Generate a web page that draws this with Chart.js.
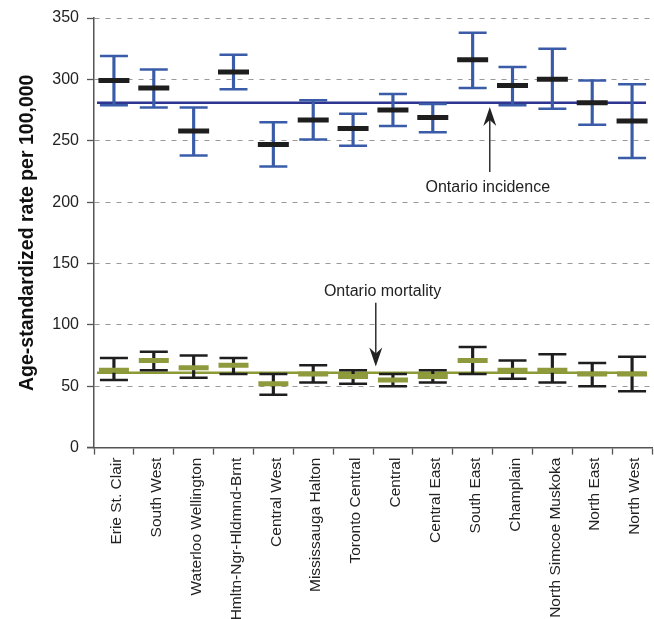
<!DOCTYPE html>
<html>
<head>
<meta charset="utf-8">
<script src="https://cdn.jsdelivr.net/npm/chart.js@4.4.1/dist/chart.umd.min.js"></script>
<style>
  html, body { margin: 0; padding: 0; background: #fff; overflow: hidden; }
  canvas { display: block; }
</style>
</head>
<body>
<canvas id="chart" width="654" height="619"></canvas>
<script>
// Regions (LHINs)
const regions = ['Erie St. Clair', 'South West', 'Waterloo Wellington', 'Hmltn-Ngr-Hldmnd-Brnt',
    'Central West', 'Mississauga Halton', 'Toronto Central', 'Central', 'Central East',
    'South East', 'Champlain', 'North Simcoe Muskoka', 'North East', 'North West'];

// Incidence: rate and 95% CI
const incRate = [299, 293, 258, 306, 247, 267, 260, 275, 269, 316, 295, 300, 281, 266];
const incLow  = [279, 277, 238, 292, 229, 251, 246, 262, 257, 293, 279, 276, 263, 236];
const incHigh = [319, 308, 277, 320, 265, 283, 272, 288, 280, 338, 310, 325, 299, 296];

// Mortality: rate and 95% CI
const morRate = [63, 71, 65, 67, 52, 60, 58, 55, 58, 71, 63, 63, 60, 60];
const morLow  = [55, 63, 57, 60, 43, 53, 52, 50, 53, 60, 56, 53, 50, 46];
const morHigh = [73, 78, 75, 73, 60, 67, 63, 60, 63, 82, 71, 76, 69, 74];

// Ontario reference levels
const ontarioIncidence = 281;
const ontarioMortality = 61;

const yTicks = [0, 50, 100, 150, 200, 250, 300, 350];

const BLUE = '#3a5ca8';
const NAVY = '#2d3590';
const OLIVE = '#8e9a3c';
const OLIVE_LINE = '#8c9a35';
const BLACK = '#1e1e1e';

// reference lines + arrow annotations
const refLines = {
    id: 'refLines',
    beforeDatasetsDraw(chart) {
        const { ctx, chartArea, scales: { y } } = chart;
        ctx.save();
        ctx.lineWidth = 2.4;
        [[ontarioIncidence, NAVY], [ontarioMortality, OLIVE_LINE]].forEach(([v, c]) => {
            const py = y.getPixelForValue(v);
            ctx.strokeStyle = c;
            ctx.beginPath();
            ctx.moveTo(chartArea.left + 3, py);
            ctx.lineTo(chartArea.right - 6, py);
            ctx.stroke();
        });
        ctx.restore();
    },
    afterDatasetsDraw(chart) {
        const { ctx, chartArea, scales: { x, y } } = chart;
        ctx.save();
        // x axis line runs a little past the y axis, like the original
        ctx.strokeStyle = '#555';
        ctx.lineWidth = 1.5;
        ctx.beginPath();
        ctx.moveTo(chartArea.left - 7, chartArea.bottom);
        ctx.lineTo(chartArea.left, chartArea.bottom);
        ctx.stroke();

        ctx.fillStyle = '#222';
        ctx.strokeStyle = '#222';
        ctx.font = '16px "Liberation Sans", Arial, sans-serif';
        ctx.textAlign = 'center';
        ctx.textBaseline = 'middle';
        ctx.fillText('Ontario incidence', x.getPixelForValue(9.38), y.getPixelForValue(211.5));
        ctx.fillText('Ontario mortality', x.getPixelForValue(6.74), y.getPixelForValue(127));

        function arrow(px, y0, y1) {
            const dir = y1 > y0 ? 1 : -1;
            ctx.lineWidth = 1.4;
            ctx.beginPath();
            ctx.moveTo(px, y0);
            ctx.lineTo(px, y1 - dir * 12);
            ctx.stroke();
            ctx.beginPath();
            ctx.moveTo(px, y1);
            ctx.lineTo(px - 6.5, y1 - dir * 19);
            ctx.lineTo(px, y1 - dir * 13);
            ctx.lineTo(px + 6.5, y1 - dir * 19);
            ctx.closePath();
            ctx.fill();
        }
        arrow(x.getPixelForValue(9.43), y.getPixelForValue(224.5), y.getPixelForValue(277.5));
        arrow(x.getPixelForValue(6.57), y.getPixelForValue(118), y.getPixelForValue(66));
        ctx.restore();
    }
};

const pointSet = (label, data, color, radius, width) => ({
    type: 'line',
    label: label,
    data: data,
    showLine: false,
    pointStyle: 'line',
    pointRadius: radius,
    pointHoverRadius: radius,
    borderColor: color,
    backgroundColor: color,
    borderWidth: width
});

const ctx = document.getElementById('chart').getContext('2d');
const chart = new Chart(ctx, {
    type: 'bar',
    data: {
        labels: regions,
        datasets: [
            pointSet('Incidence rate', incRate, BLACK, 15.5, 5),
            pointSet('Mortality rate', morRate, OLIVE, 15, 5),
            pointSet('Incidence upper', incHigh, BLUE, 14, 2.5),
            pointSet('Incidence lower', incLow, BLUE, 14, 2.5),
            pointSet('Mortality upper', morHigh, BLACK, 14, 2.5),
            pointSet('Mortality lower', morLow, BLACK, 14, 2.5),
            {
                label: 'Incidence CI',
                data: incLow.map((v, i) => [v, incHigh[i]]),
                backgroundColor: BLUE,
                barThickness: 2.5,
                grouped: false
            },
            {
                label: 'Mortality CI',
                data: morLow.map((v, i) => [v, morHigh[i]]),
                backgroundColor: BLACK,
                barThickness: 2.5,
                grouped: false
            }
        ]
    },
    options: {
        responsive: false,
        animation: false,
        layout: { autoPadding: false, padding: { top: 18, right: 2, left: 0, bottom: 0 } },
        plugins: {
            legend: { display: false },
            tooltip: { enabled: false }
        },
        scales: {
            x: {
                offset: true,
                afterFit: scale => {
                    scale.height = 171.4;
                    scale.paddingLeft = 0;
                    scale.paddingRight = 0;
                },
                grid: {
                    offset: true,
                    drawOnChartArea: false,
                    tickLength: 7,
                    tickColor: '#555',
                    tickWidth: 1.3
                },
                border: { color: '#555', width: 1.5 },
                ticks: {
                    autoSkip: false,
                    minRotation: 90,
                    maxRotation: 90,
                    padding: 3,
                    labelOffset: 3,
                    color: '#222',
                    font: { family: '"Liberation Sans", Arial, sans-serif', size: 15.5 }
                }
            },
            y: {
                min: 0,
                max: 350,
                afterFit: scale => {
                    scale.width = 94;
                    scale.paddingTop = 0;
                    scale.paddingBottom = 0;
                },
                afterBuildTicks: scale => { scale.ticks = yTicks.map(v => ({ value: v })); },
                title: {
                    display: true,
                    text: 'Age-standardized rate per 100,000',
                    color: '#111',
                    padding: { top: 16, bottom: 0 },
                    font: { family: '"Liberation Sans", Arial, sans-serif', size: 19.5, weight: 'bold' }
                },
                grid: {
                    color: '#999',
                    lineWidth: 1,
                    tickLength: 7,
                    tickColor: '#555',
                    tickWidth: 1.3,
                    tickBorderDash: [0, 0]
                },
                border: { color: '#555', width: 1.5, dash: [5, 6] },
                ticks: {
                    padding: 8,
                    color: '#222',
                    font: { family: '"Liberation Sans", Arial, sans-serif', size: 16 }
                }
            }
        }
    },
    plugins: [refLines]
});
</script>
</body>
</html>
